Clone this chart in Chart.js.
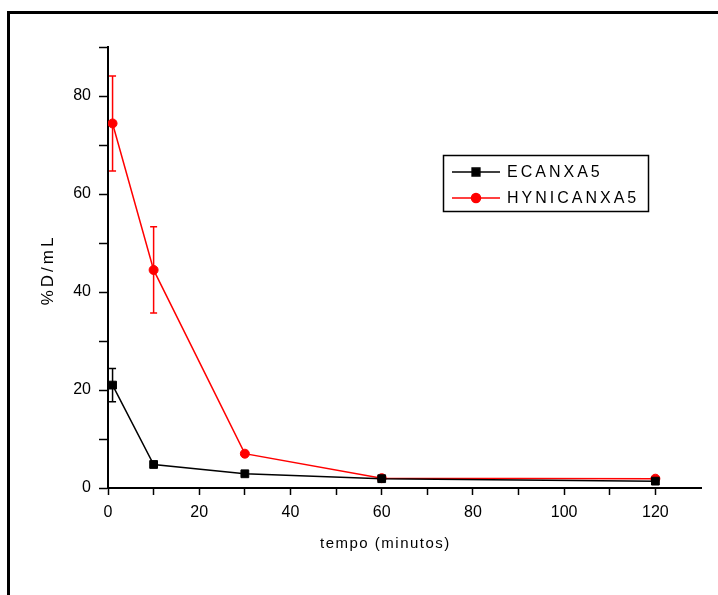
<!DOCTYPE html>
<html>
<head>
<meta charset="utf-8">
<script src="https://cdn.jsdelivr.net/npm/chart.js@4.4.0/dist/chart.umd.min.js"></script>
<style>
  html, body { margin: 0; padding: 0; background: #fff; }
  #wrap { position: relative; width: 718px; height: 595px; overflow: hidden; }
  #myChart { position: absolute; left: 0; top: 0; }
  #frame { position: absolute; left: 7px; top: 11px; right: -10px; bottom: -10px;
           border-top: 3px solid #000; border-left: 3px solid #000; pointer-events: none; }
</style>
</head>
<body>
<div id="wrap">
  <canvas id="myChart" width="718" height="595"></canvas>
  <div id="frame"></div>
</div>
<script>
// data
var seriesNames = ['ECANXA5', 'HYNICANXA5'];
var tempo = [1, 10, 30, 60, 120];
var ecanxa5 = [21.0, 4.8, 2.9, 1.9, 1.4];
var ecanxa5Err = [3.4, 0, 0, 0, 0];
var hynicanxa5 = [74.4, 44.5, 7.0, 2.0, 1.9];
var hynicanxa5Err = [9.7, 8.8, 0, 0, 0];

var xTicks = [0, 10, 20, 30, 40, 50, 60, 70, 80, 90, 100, 110, 120];
var yTicks = [0, 10, 20, 30, 40, 50, 60, 70, 80, 90];
var xTitle = 'tempo (minutos)';
var yTitle = '%D/mL';

var FONT = '"Liberation Sans", Arial, sans-serif';

function toPoints(xs, ys) {
  return xs.map(function (x, i) { return { x: x, y: ys[i] }; });
}

// vertical error bars, positioned with the chart's own scales
var errorBars = {
  id: 'errorBars',
  afterDatasetsDraw: function (chart) {
    var ctx = chart.ctx, xs = chart.scales.x, ys = chart.scales.y;
    chart.data.datasets.forEach(function (ds) {
      var errs = ds.errors;
      if (!errs) return;
      ctx.save();
      ctx.strokeStyle = ds.borderColor;
      ctx.lineWidth = 1.5;
      ds.data.forEach(function (p, j) {
        var e = errs[j];
        if (!e) return;
        var x = xs.getPixelForValue(p.x);
        var yt = ys.getPixelForValue(p.y + e);
        var yb = ys.getPixelForValue(p.y - e);
        ctx.beginPath();
        ctx.moveTo(x, yt); ctx.lineTo(x, yb);
        ctx.moveTo(x - 3.5, yt); ctx.lineTo(x + 3.5, yt);
        ctx.moveTo(x - 3.5, yb); ctx.lineTo(x + 3.5, yb);
        ctx.stroke();
      });
      ctx.restore();
    });
  }
};

// boxed legend + axis titles
var extras = {
  id: 'extras',
  afterDraw: function (chart) {
    var ctx = chart.ctx;
    ctx.save();
    // legend box
    ctx.strokeStyle = '#000';
    ctx.lineWidth = 1.5;
    ctx.strokeRect(443.5, 155.5, 205, 56);
    chart.data.datasets.forEach(function (ds, i) {
      var y = 172 + i * 26;
      ctx.strokeStyle = ds.borderColor;
      ctx.lineWidth = 1.5;
      ctx.beginPath();
      ctx.moveTo(452, y); ctx.lineTo(500, y);
      ctx.stroke();
      ctx.fillStyle = ds.backgroundColor;
      Chart.helpers.drawPoint(ctx, {
        pointStyle: ds.pointStyle, radius: ds.pointRadius, borderWidth: 1, rotation: 0
      }, 476, y);
      ctx.fillStyle = '#000';
      ctx.font = '16px ' + FONT;
      ctx.letterSpacing = '3px';
      ctx.textAlign = 'left';
      ctx.textBaseline = 'middle';
      ctx.fillText(ds.label, 507, y + 1);
    });
    // axis titles
    ctx.fillStyle = '#000';
    ctx.font = '15px ' + FONT;
    ctx.letterSpacing = '1.5px';
    ctx.textAlign = 'left';
    ctx.textBaseline = 'middle';
    ctx.fillText(xTitle, 320, 544);
    ctx.translate(48, 270);
    ctx.rotate(-Math.PI / 2);
    ctx.font = '17px ' + FONT;
    ctx.letterSpacing = '3px';
    ctx.textAlign = 'center';
    ctx.fillText(yTitle, 0, 0);
    ctx.restore();
  }
};

new Chart(document.getElementById('myChart'), {
  type: 'line',
  data: {
    datasets: [
      {
        label: seriesNames[0],
        data: toPoints(tempo, ecanxa5),
        errors: ecanxa5Err,
        borderColor: '#000000',
        backgroundColor: '#000000',
        borderWidth: 1.5,
        pointStyle: 'rect',
        pointRadius: 5.5,
        pointBorderWidth: 1,
        tension: 0,
        fill: false
      },
      {
        label: seriesNames[1],
        data: toPoints(tempo, hynicanxa5),
        errors: hynicanxa5Err,
        borderColor: '#ff0000',
        backgroundColor: '#ff0000',
        borderWidth: 1.5,
        pointStyle: 'circle',
        pointRadius: 4.5,
        pointBorderWidth: 1,
        tension: 0,
        fill: false
      }
    ]
  },
  options: {
    responsive: false,
    animation: false,
    devicePixelRatio: 1,
    layout: { padding: { top: 47, right: 17, left: 0, bottom: 0 } },
    plugins: { legend: { display: false }, tooltip: { enabled: false } },
    scales: {
      x: {
        type: 'linear',
        min: 0,
        max: 130,
        afterBuildTicks: function (s) { s.ticks = xTicks.map(function (v) { return { value: v }; }); },
        afterFit: function (s) { s.height = 107; },
        ticks: {
          autoSkip: false,
          maxRotation: 0,
          color: '#000',
          font: { family: FONT, size: 16 },
          padding: 8,
          callback: function (v) { return v % 20 === 0 ? v : ''; }
        },
        grid: { drawOnChartArea: false, drawTicks: true, tickLength: 7, tickColor: '#000', tickWidth: 1.5 },
        border: { display: true, color: '#000', width: 2 }
      },
      y: {
        min: 0,
        max: 90,
        afterBuildTicks: function (s) { s.ticks = yTicks.map(function (v) { return { value: v }; }); },
        afterFit: function (s) { s.width = 108; },
        ticks: {
          autoSkip: false,
          color: '#000',
          font: { family: FONT, size: 16 },
          padding: 8,
          callback: function (v) { return v % 20 === 0 ? v : ''; }
        },
        grid: { drawOnChartArea: false, drawTicks: true, tickLength: 9, tickColor: '#000', tickWidth: 1.5 },
        border: { display: true, color: '#000', width: 2 }
      }
    }
  },
  plugins: [errorBars, extras]
});
</script>
</body>
</html>
